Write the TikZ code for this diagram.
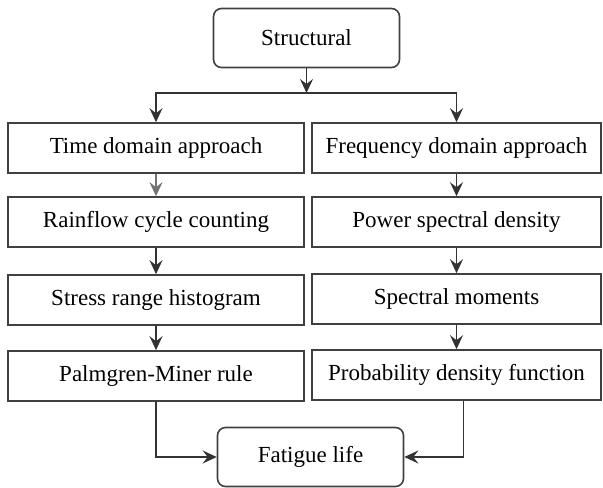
\documentclass[tikz,border=0pt]{standalone}
\usepackage{fontspec}
\setmainfont{Liberation Serif}
\usetikzlibrary{arrows.meta}
\tikzset{
  stepbox/.style={draw=black!75,thick,rectangle,minimum height=25pt,inner sep=2pt,font=\fontsize{11.5}{13}\selectfont},
  endbox/.style={draw=black!75,thick,rectangle,rounded corners=4pt,minimum width=93pt,minimum height=29.5pt,font=\fontsize{11.5}{13}\selectfont},
  flow/.style={thick,black!80,-{Stealth[length=7pt,width=6.5pt,inset=2.5pt]}}
}
\begin{document}
\begin{tikzpicture}[x=0.5pt,y=-0.5pt]
  \useasboundingbox (0,0) rectangle (603,487);
  \node[endbox] (st) at (306.5,38) {Structural};
  \coordinate (split) at (306.5,93);
  % time domain column
  \node[stepbox,minimum width=148pt] (td) at (156,148) {Time domain approach};
  \node[stepbox,minimum width=148pt] (rf) at (156,222) {Rainflow cycle counting};
  \node[stepbox,minimum width=148pt] (sr) at (156,300) {Stress range histogram};
  \node[stepbox,minimum width=148pt] (pm) at (156,376) {Palmgren-Miner rule};
  % frequency domain column
  \node[stepbox,minimum width=144.5pt] (fd) at (456.5,148) {Frequency domain approach};
  \node[stepbox,minimum width=144.5pt] (ps) at (456.5,222) {Power spectral density};
  \node[stepbox,minimum width=144.5pt] (sm) at (456.5,299) {Spectral moments};
  \node[stepbox,minimum width=144.5pt] (pd) at (456.5,375) {Probability density function};
  \node[endbox] (fl) at (310.5,457) {Fatigue life};
  \draw[flow] (st) -- (split);
  \draw[flow] (split) -| (td);
  \draw[flow] (split) -| (fd);
  \draw[flow,black!55] (td) -- (rf);
  \draw[flow] (rf) -- (sr);
  \draw[flow] (sr) -- (pm);
  \draw[flow] (fd) -- (ps);
  \draw[flow] (ps) -- (sm);
  \draw[flow] (sm) -- (pd);
  \draw[flow] (pm.south) |- (fl);
  \draw[flow] ([xshift=3.5pt]pd.south) |- (fl);
\end{tikzpicture}
\end{document}
